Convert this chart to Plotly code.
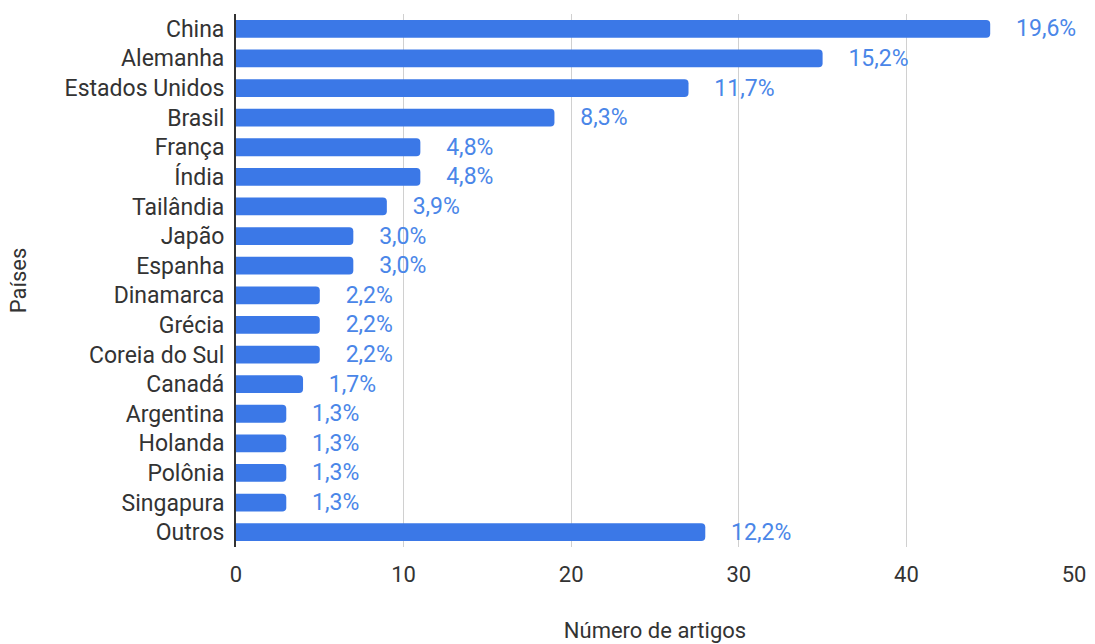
import plotly.graph_objects as go

paises = ["China", "Alemanha", "Estados Unidos", "Brasil", "França", "Índia", "Tailândia",
          "Japão", "Espanha", "Dinamarca", "Grécia", "Coreia do Sul", "Canadá", "Argentina",
          "Holanda", "Polônia", "Singapura", "Outros"]
artigos = [45, 35, 27, 19, 11, 11, 9, 7, 7, 5, 5, 5, 4, 3, 3, 3, 3, 28]
percentuais = ["19,6%", "15,2%", "11,7%", "8,3%", "4,8%", "4,8%", "3,9%", "3,0%", "3,0%",
               "2,2%", "2,2%", "2,2%", "1,7%", "1,3%", "1,3%", "1,3%", "1,3%", "12,2%"]
x_ticks = [0, 10, 20, 30, 40, 50]

fig = go.Figure(go.Bar(
    y=paises, x=artigos, orientation="h",
    text=percentuais, texttemplate="    %{text}", textposition="outside",
    constraintext="none",
    textfont=dict(color="#4a86e8", size=23, family="Roboto"),
    marker=dict(color="#3b78e7", line=dict(width=0), cornerradius=4),
    width=0.6, cliponaxis=False,
))

fig.update_layout(
    width=1095, height=644,
    margin=dict(l=236, r=21, t=14, b=97),
    plot_bgcolor="white", paper_bgcolor="white",
    font=dict(family="Roboto", size=22, color="#333333"),
    showlegend=False,
    xaxis=dict(range=[0, 50], tickvals=x_ticks, showgrid=True, gridcolor="#d0d0d0",
               gridwidth=1, zeroline=False, showline=False, ticks="",
               ticklabelstandoff=12, automargin=False,
               tickfont=dict(size=22, color="#333333"),
               title=dict(text="Número de artigos", font=dict(size=22), standoff=36)),
    yaxis=dict(autorange="reversed", showline=True, linecolor="#333333", linewidth=2,
               ticks="", ticklabelstandoff=5, automargin=False,
               tickfont=dict(size=23, color="#333333"),
               title=dict(text="Países", font=dict(size=22), standoff=32)),
)

fig.write_html("out.html", config={"displayModeBar": False},
               post_script="document.body.style.margin='0';")
